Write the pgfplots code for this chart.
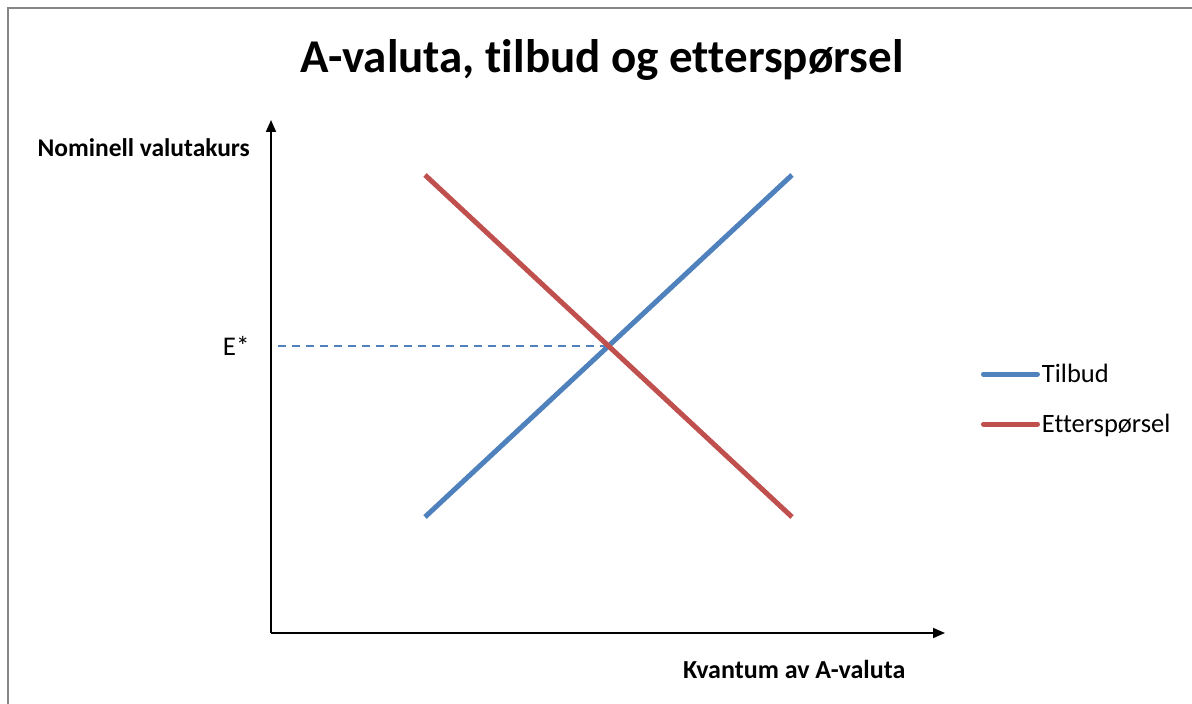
\documentclass[border=0pt]{standalone}
\usepackage{pgfplots}
\pgfplotsset{compat=1.18}
\usepackage{fontspec}
\setmainfont{Carlito}[Ligatures={NoCommon}]
\usetikzlibrary{arrows.meta}
\definecolor{exblue}{HTML}{4F81BD}
\definecolor{exred}{HTML}{C0504D}
\definecolor{frame}{HTML}{868686}
\begin{document}
\begin{tikzpicture}[x=1pt,y=1pt]
\path[use as bounding box] (0,0) rectangle (1192,704);
\draw[frame, line width=2pt] (8,0) -- (8,696) -- (1192,696);
\node[anchor=base, font=\bfseries\fontsize{47}{54}\selectfont, inner sep=0pt] at (602,631) {A-valuta, tilbud og etterspørsel};
\begin{axis}[
  at={(271pt,71pt)}, anchor=south west,
  scale only axis, width=674pt, height=513pt,
  xmin=0, xmax=674, ymin=0, ymax=513,
  axis lines=left,
  axis line style={line width=1.8pt, -{Triangle[length=12pt,width=10pt]}},
  xtick=\empty,
  ytick={287}, yticklabels={E*},
  major tick length=0pt,
  yticklabel style={font=\fontsize{27}{30}\selectfont, xshift=-18pt},
  clip=false,
  legend style={at={(1.0486,0.456)}, anchor=west, draw=none, fill=none,
    font=\fontsize{26.5}{30}\selectfont, row sep=26pt,
    nodes={inner sep=2pt}},
  legend cell align=left,
  legend image code/.code={\draw[#1, line cap=round] (0pt,0pt) -- (54pt,0pt);},
]
\addplot[exblue, line width=1.5pt, dash pattern=on 8pt off 6pt, forget plot] coordinates {(7,287) (334,287)};
\addplot[exblue, line width=5pt] coordinates {(154,116) (521,458)};
\addlegendentry{Tilbud}
\addplot[exred, line width=5pt] coordinates {(154,458) (521,116)};
\addlegendentry{Etterspørsel}
\end{axis}
\node[anchor=base east, font=\bfseries\fontsize{25.5}{28}\selectfont, inner sep=0pt] at (250,547) {Nominell valutakurs};
\node[anchor=base west, font=\bfseries\fontsize{26}{28}\selectfont, inner sep=0pt] at (683,25) {Kvantum av A-valuta};
\end{tikzpicture}
\end{document}
